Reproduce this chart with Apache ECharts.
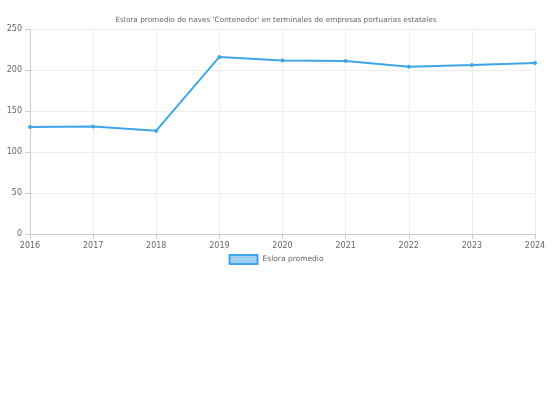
<!DOCTYPE html>
<html><head><meta charset="utf-8">
<script src="https://cdn.jsdelivr.net/npm/echarts@6/dist/echarts.min.js"></script>
<style>html,body{margin:0;padding:0;background:#fff}#c{width:552px;height:414px}</style>
</head><body><div id="c"></div>
<script>
var categories=['2016','2017','2018','2019','2020','2021','2022','2023','2024'];
var values=[130.5,131,126,216,211.5,211,204,206,208.5];
var yTicks=[0,50,100,150,200,250];
var chart=echarts.init(document.getElementById('c'));
chart.setOption({
  animation:false,
  textStyle:{fontFamily:'DejaVu Sans'},
  title:{text:"Eslora promedio de naves 'Contenedor' en terminales de empresas portuarias estatales",left:'center',top:12,textStyle:{fontSize:7.3,fontWeight:'normal',color:'#666'}},
  legend:{bottom:144,itemWidth:28,itemHeight:9,textStyle:{fontSize:7.5,color:'#666'},data:[{name:'Eslora promedio',icon:'rect',itemStyle:{color:'#9fd0f3',borderColor:'#3ea6e6',borderWidth:2}}]},
  grid:{left:30,right:17,top:29,bottom:180},
  xAxis:{type:'category',data:categories,boundaryGap:false,axisLine:{lineStyle:{color:'#ccc'}},axisTick:{lineStyle:{color:'#ccc'}},axisLabel:{fontSize:8,color:'#666'},splitLine:{show:true,lineStyle:{color:'#eee'}}},
  yAxis:{type:'value',min:yTicks[0],max:yTicks[yTicks.length-1],interval:50,axisLine:{show:true,lineStyle:{color:'#ccc'}},axisTick:{show:true,lineStyle:{color:'#ccc'}},axisLabel:{fontSize:8,color:'#666'},splitLine:{lineStyle:{color:'#eee'}}},
  series:[{name:'Eslora promedio',type:'line',data:values,symbol:'circle',symbolSize:4,lineStyle:{width:2,color:'#3ea6e6'},itemStyle:{color:'#3ea6e6'}}]
});
</script></body></html>
